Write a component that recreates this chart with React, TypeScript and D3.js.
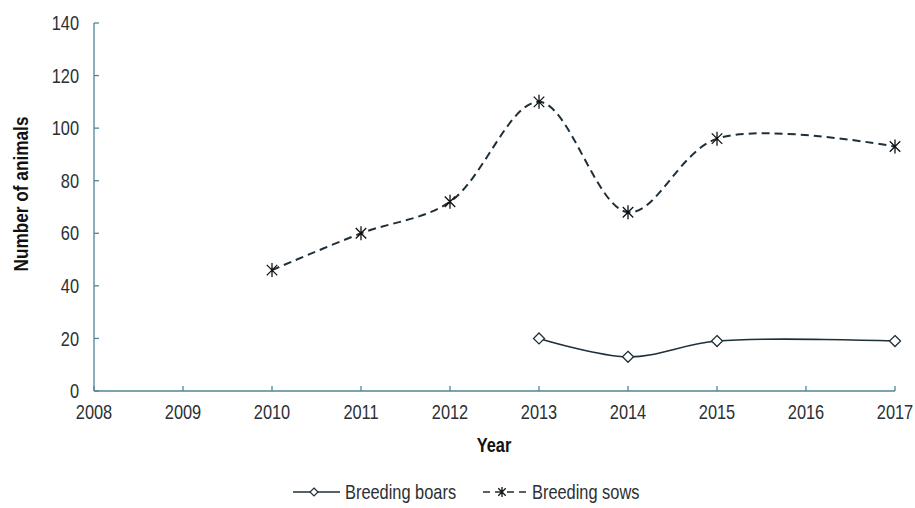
import React from "react";
import * as d3 from "d3";

const years = [2008, 2009, 2010, 2011, 2012, 2013, 2014, 2015, 2016, 2017];
const yTicks = [0, 20, 40, 60, 80, 100, 120, 140];
const sowYears = [2010, 2011, 2012, 2013, 2014, 2015, 2017];
const sowValues = [46, 60, 72, 110, 68, 96, 93];
const boarYears = [2013, 2014, 2015, 2017];
const boarValues = [20, 13, 19, 19];

const FONT = "'Liberation Sans', Arial, sans-serif";
const LINE = "#1e2f3a";
const AXIS = "#4f8596";
const TEXT = "#2a2f35";
const SX = 0.82;

type TProps = {
  x: number;
  y: number;
  size: number;
  anchor?: "start" | "middle" | "end";
  bold?: boolean;
  rotate?: number;
  fill?: string;
  dy?: string;
  children: React.ReactNode;
};

function NText({ x, y, size, anchor = "start", bold, rotate = 0, fill = TEXT, dy, children }: TProps) {
  return (
    <g transform={`translate(${x},${y}) rotate(${rotate}) scale(${SX},1)`}>
      <text
        x={0}
        y={0}
        dy={dy}
        textAnchor={anchor}
        fontSize={size}
        fontWeight={bold ? "bold" : "normal"}
        fill={fill}
      >
        {children}
      </text>
    </g>
  );
}

export default function App() {
  const x = d3.scaleLinear().domain([2008, 2017]).range([94, 895]);
  const y = d3.scaleLinear().domain([0, 140]).range([391, 23]);
  const curve = d3.curveCatmullRom.alpha(0.5);
  const line = d3
    .line<[number, number]>()
    .x((d) => x(d[0]))
    .y((d) => y(d[1]))
    .curve(curve);
  const sows: [number, number][] = sowYears.map((yr, i) => [yr, sowValues[i]]);
  const boars: [number, number][] = boarYears.map((yr, i) => [yr, boarValues[i]]);

  const diamond = (cx: number, cy: number, r = 5.5) =>
    `M${cx},${cy - r}L${cx + r},${cy}L${cx},${cy + r}L${cx - r},${cy}Z`;
  const star = (cx: number, cy: number, r = 7) => {
    const d = r * 0.75;
    return `M${cx},${cy - r}L${cx},${cy + r}M${cx - d},${cy - d}L${cx + d},${cy + d}M${cx - d},${cy + d}L${cx + d},${cy - d}`;
  };

  return (
    <svg
      width={915}
      height={508}
      style={{ position: "absolute", left: 0, top: 0, background: "#fff" }}
      fontFamily={FONT}
    >
      {/* axes */}
      <line x1={x(2008)} x2={x(2017)} y1={y(0)} y2={y(0)} stroke={AXIS} strokeWidth={1.3} />
      <line x1={x(2008)} x2={x(2008)} y1={y(0)} y2={y(140)} stroke={AXIS} strokeWidth={1.3} />
      {yTicks.map((t) => (
        <g key={"y" + t}>
          <line x1={x(2008)} x2={x(2008) + 5} y1={y(t)} y2={y(t)} stroke={AXIS} strokeWidth={1.3} />
          <NText x={79} y={y(t)} dy="0.36em" anchor="end" size={20}>
            {t}
          </NText>
        </g>
      ))}
      {years.map((yr) => (
        <g key={"x" + yr}>
          <line x1={x(yr)} x2={x(yr)} y1={y(0)} y2={y(0) - 5} stroke={AXIS} strokeWidth={1.3} />
          <NText x={x(yr)} y={419} anchor="middle" size={20}>
            {yr}
          </NText>
        </g>
      ))}
      <NText x={494} y={452} anchor="middle" size={20} bold fill="#111">
        Year
      </NText>
      <NText x={28} y={194} anchor="middle" size={21} bold rotate={-90} fill="#111">
        Number of animals
      </NText>

      {/* series */}
      <path d={line(sows) || ""} fill="none" stroke={LINE} strokeWidth={2} strokeDasharray="8,5" />
      <path d={line(boars) || ""} fill="none" stroke={LINE} strokeWidth={1.6} />
      {sows.map((d, i) => (
        <path key={"s" + i} d={star(x(d[0]), y(d[1]))} stroke="#111" strokeWidth={1.3} fill="none" />
      ))}
      {boars.map((d, i) => (
        <path key={"b" + i} d={diamond(x(d[0]), y(d[1]))} stroke={LINE} strokeWidth={1.3} fill="#fff" />
      ))}

      {/* legend */}
      <line x1={293} x2={340} y1={492} y2={492} stroke={LINE} strokeWidth={1.6} />
      <path d={diamond(314, 492, 4)} stroke={LINE} strokeWidth={1.2} fill="#fff" />
      <NText x={345} y={492} dy="0.36em" size={20}>
        Breeding boars
      </NText>
      <line x1={483} x2={528} y1={492} y2={492} stroke={LINE} strokeWidth={1.6} strokeDasharray="7,5" />
      <path d={star(502, 492, 5)} stroke="#111" strokeWidth={1.3} fill="none" />
      <NText x={532} y={492} dy="0.36em" size={20}>
        Breeding sows
      </NText>
    </svg>
  );
}
